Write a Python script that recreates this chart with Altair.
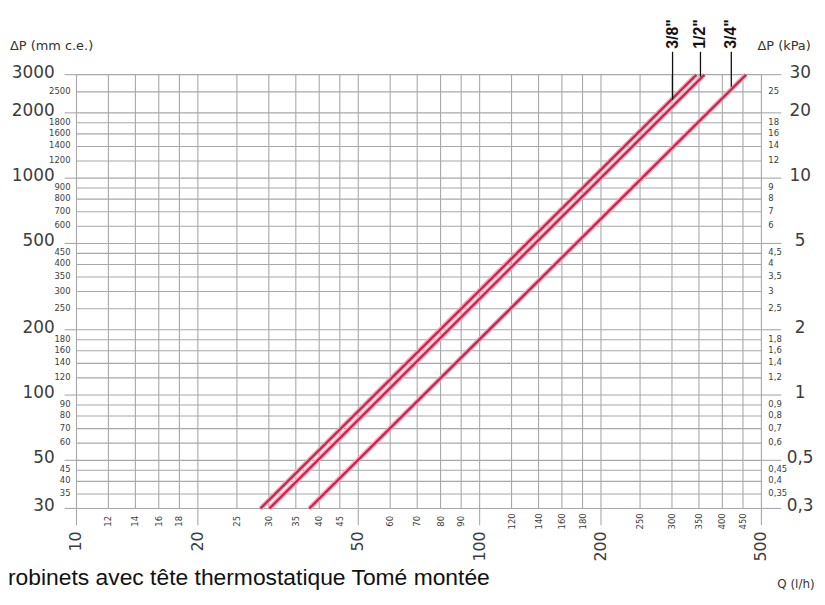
import altair as alt
import pandas as pd

# ---------------- data ----------------
series = ['3/8"', '1/2"', '3/4"']
q_at_30 = [28.6, 30.1, 37.8]      # Q (l/h) where each line meets ΔP = 30 mm c.e.
q_at_3000 = [345, 361, 458]       # Q (l/h) where each line meets ΔP = 3000 mm c.e.
dp_ends = [30, 3000]

leader_q = [301, 353, 421]        # where the label leaders touch the lines
leader_dp = [2300, 2940, 2640]

y_major = [3000, 2000, 1000, 500, 200, 100, 50, 30]
y_minor = [2500, 1800, 1600, 1400, 1200, 900, 800, 700, 600, 450, 400, 350,
           300, 250, 180, 160, 140, 120, 90, 80, 70, 60, 45, 40, 35]
x_major = [10, 20, 50, 100, 200, 500]
x_minor = [12, 14, 16, 18, 25, 30, 35, 40, 45, 60, 70, 80, 90, 120, 140, 160,
           180, 250, 300, 350, 400, 450]
kpa_major = [30, 20, 10, 5, 2, 1, 0.5, 0.3]
kpa_minor = [25, 18, 16, 14, 12, 9, 8, 7, 6, 4.5, 4, 3.5, 3, 2.5, 1.8, 1.6,
             1.4, 1.2, 0.9, 0.8, 0.7, 0.6, 0.45, 0.4, 0.35]

caption = "robinets avec tête thermostatique Tomé montée"
left_title = "ΔP (mm c.e.)"
right_title = "ΔP (kPa)"
x_title = "Q (l/h)"

# ---------------- helpers ----------------
W, H = 690, 437
GRID = "#a8a8a8"
TXT = "#3c3c3c"
FONT = "DejaVu Sans"

xs = alt.Scale(type="log", domain=[10, 500], nice=False)
ys = alt.Scale(type="log", domain=[30, 3000], nice=False)


def X(f):
    return alt.X(f, type="quantitative", scale=xs, axis=None)


def Y(f):
    return alt.Y(f, type="quantitative", scale=ys, axis=None)


def fmt(v):
    s = str(int(v)) if float(v).is_integer() else str(v)
    return s.replace(".", ",")


def lab_df(vals):
    return pd.DataFrame({"v": vals, "t": [str(v) for v in vals]})


rows = []
for s, a, b in zip(series, q_at_30, q_at_3000):
    rows.append({"series": s, "Q": a, "dp": dp_ends[0]})
    rows.append({"series": s, "Q": b, "dp": dp_ends[1]})
lines_df = pd.DataFrame(rows)

leader_df = pd.DataFrame({"series": series, "q": leader_q, "dp": leader_dp})

kpa_major_df = pd.DataFrame({"v": [k * 100 for k in kpa_major], "t": [fmt(k) for k in kpa_major]})
kpa_minor_df = pd.DataFrame({"v": [k * 100 for k in kpa_minor], "t": [fmt(k) for k in kpa_minor]})

# ---------------- grid ----------------
grid_h = alt.Chart(pd.DataFrame({"v": y_major + y_minor})).mark_rule(
    color=GRID, strokeWidth=1.1).encode(y=Y("v"), x=alt.value(0), x2=alt.value(W))
grid_v = alt.Chart(pd.DataFrame({"v": x_major + x_minor})).mark_rule(
    color=GRID, strokeWidth=1.1).encode(x=X("v"), y=alt.value(0), y2=alt.value(H))
tick_l = alt.Chart(pd.DataFrame({"v": y_major})).mark_rule(
    color=GRID, strokeWidth=1.1).encode(y=Y("v"), x=alt.value(-12), x2=alt.value(0))
tick_r = alt.Chart(pd.DataFrame({"v": y_major})).mark_rule(
    color=GRID, strokeWidth=1.1).encode(y=Y("v"), x=alt.value(W), x2=alt.value(W + 20))
tick_b = alt.Chart(pd.DataFrame({"v": x_major})).mark_rule(
    color=GRID, strokeWidth=1.1).encode(x=X("v"), y=alt.value(H), y2=alt.value(H + 17))

# ---------------- tick labels ----------------
lab_l_major = alt.Chart(lab_df(y_major)).mark_text(
    align="right", baseline="middle", fontSize=17, font=FONT, color=TXT, dy=-2
).encode(y=Y("v"), x=alt.value(-22), text="t:N")
lab_l_minor = alt.Chart(lab_df(y_minor)).mark_text(
    align="right", baseline="middle", fontSize=8.5, font=FONT, color=TXT, dy=-1
).encode(y=Y("v"), x=alt.value(-6), text="t:N")
lab_r_major = alt.Chart(kpa_major_df).mark_text(
    align="center", baseline="middle", fontSize=17, font=FONT, color=TXT, dy=-2
).encode(y=Y("v"), x=alt.value(729), text="t:N")
lab_r_minor = alt.Chart(kpa_minor_df).mark_text(
    align="left", baseline="middle", fontSize=8.5, font=FONT, color=TXT, dy=-1
).encode(y=Y("v"), x=alt.value(697), text="t:N")
lab_b_major = alt.Chart(lab_df(x_major)).mark_text(
    align="right", baseline="middle", angle=270, fontSize=16, font=FONT, color=TXT
).encode(x=X("v"), y=alt.value(460), text="t:N")
lab_b_minor = alt.Chart(lab_df(x_minor)).mark_text(
    align="center", baseline="middle", angle=270, fontSize=8.5, font=FONT, color=TXT
).encode(x=X("v"), y=alt.value(450), text="t:N")

# ---------------- curves ----------------
halo = alt.Chart(lines_df).mark_line(color="#f0a4b7", strokeWidth=4.8).encode(
    x=X("Q"), y=Y("dp"), detail="series:N")
curves = alt.Chart(lines_df).mark_line(color="#cf1f4c", strokeWidth=2.2).encode(
    x=X("Q"), y=Y("dp"), detail="series:N")

leaders = alt.Chart(leader_df).mark_rule(color="#111111", strokeWidth=1.3).encode(
    x=X("q"), y=Y("dp"), y2=alt.value(-23))
leader_text = alt.Chart(leader_df).mark_text(
    angle=270, align="center", baseline="middle", fontSize=16, fontWeight="bold",
    font="Liberation Sans Narrow, Liberation Sans", color="#111111"
).encode(x=X("q"), y=alt.value(-41), text="series:N")

# ---------------- titles ----------------
t_left = alt.Chart(pd.DataFrame({"t": [left_title]})).mark_text(
    align="left", baseline="middle", fontSize=13, font=FONT, color="#333333"
).encode(x=alt.value(-67), y=alt.value(-29), text="t:N")
t_right = alt.Chart(pd.DataFrame({"t": [right_title]})).mark_text(
    align="left", baseline="middle", fontSize=13, font=FONT, color="#333333"
).encode(x=alt.value(686), y=alt.value(-29), text="t:N")
t_x = alt.Chart(pd.DataFrame({"t": [x_title]})).mark_text(
    align="left", baseline="alphabetic", fontSize=12, font=FONT, color="#333333"
).encode(x=alt.value(706), y=alt.value(517), text="t:N")
t_cap = alt.Chart(pd.DataFrame({"t": [caption]})).mark_text(
    align="left", baseline="alphabetic", fontSize=23, font="Liberation Sans", color="#111111"
).encode(x=alt.value(-69), y=alt.value(514), text="t:N")

chart = alt.layer(
    grid_h, grid_v, tick_l, tick_r, tick_b,
    lab_l_major, lab_l_minor, lab_r_major, lab_r_minor, lab_b_major, lab_b_minor,
    halo, curves, leaders, leader_text,
    t_left, t_right, t_x, t_cap,
).properties(
    width=W, height=H,
    padding={"left": 69, "top": 65, "right": 56, "bottom": 80},
    autosize=alt.AutoSizeParams(type="none"),
    background="white",
).configure_view(strokeWidth=0)

chart.save("out.html", embed_options={"renderer": "svg", "actions": False})
